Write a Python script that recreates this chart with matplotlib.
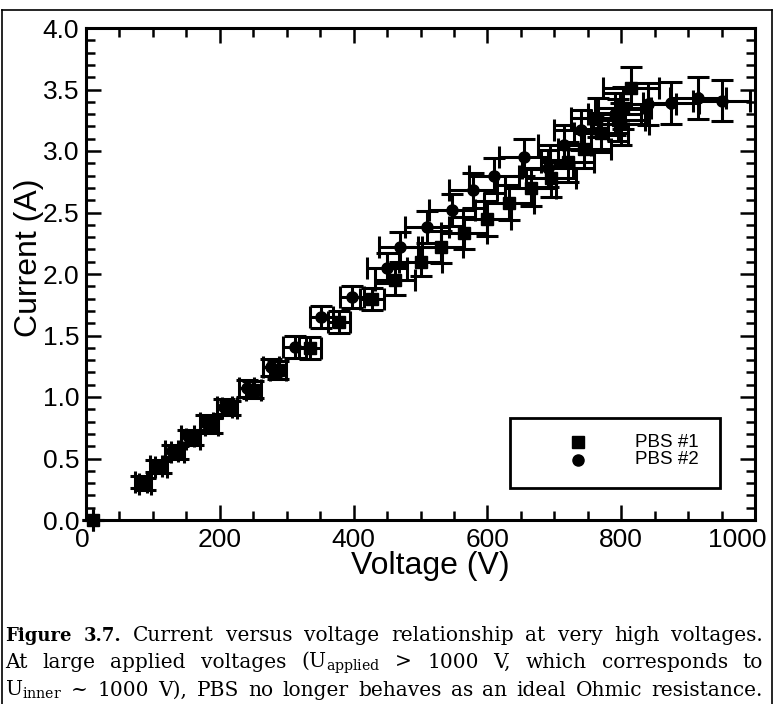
# Current vs voltage for two PBS samples (Figure 3.7 style)
import matplotlib
matplotlib.use("Agg")
import matplotlib.pyplot as plt
import matplotlib.transforms as mtransforms
from matplotlib.lines import Line2D
from matplotlib.patches import Rectangle
from matplotlib.ticker import MultipleLocator, FormatStrFormatter

# PBS #1 (squares)
v1 = [10, 88, 112, 137, 160, 188, 215, 250, 287, 335, 378, 428, 462, 500, 530,
      565, 600, 632, 665, 695, 720, 745, 770, 795, 803, 815]
i1 = [0.00, 0.29, 0.43, 0.55, 0.66, 0.77, 0.91, 1.06, 1.22, 1.40, 1.61, 1.80, 1.95,
      2.10, 2.22, 2.33, 2.45, 2.58, 2.70, 2.78, 2.91, 3.02, 3.15, 3.25, 3.35, 3.51]
dv1 = [0, 9, 9, 10, 10, 10, 11, 11, 12, 17, 17, 18, 30, 32, 33, 35, 36, 37, 38,
       38, 40, 40, 40, 40, 42, 42]
di1 = [0, 0.05, 0.05, 0.05, 0.05, 0.06, 0.06, 0.07, 0.07, 0.09, 0.09, 0.09, 0.12,
       0.12, 0.13, 0.13, 0.14, 0.14, 0.15, 0.15, 0.16, 0.16, 0.16, 0.17, 0.17, 0.17]

# PBS #2 (circles)
v2 = [82, 105, 128, 152, 180, 207, 240, 277, 312, 352, 398, 450, 470, 510, 547,
      578, 610, 655, 690, 715, 740, 765, 790, 800, 840, 875, 915, 950]
i2 = [0.31, 0.44, 0.56, 0.68, 0.79, 0.92, 1.07, 1.24, 1.41, 1.65, 1.81, 2.05, 2.22,
      2.38, 2.52, 2.68, 2.80, 2.95, 2.86, 3.05, 3.17, 3.27, 3.30, 3.22, 3.38, 3.39,
      3.43, 3.41]
dv2 = [9, 9, 10, 10, 10, 11, 11, 12, 17, 17, 18, 30, 32, 33, 35, 36, 37, 38, 38,
       40, 40, 40, 40, 42, 42, 42, 42, 42]
di2 = [0.05, 0.05, 0.05, 0.05, 0.06, 0.06, 0.07, 0.07, 0.09, 0.09, 0.09, 0.12, 0.12,
       0.13, 0.13, 0.14, 0.14, 0.15, 0.15, 0.16, 0.16, 0.16, 0.17, 0.17, 0.17, 0.17,
       0.17, 0.17]

xticks = [0, 200, 400, 600, 800, 1000]
yticks = [0, 0.5, 1.0, 1.5, 2.0, 2.5, 3.0, 3.5, 4.0]

W, H = 774, 704
plt.rcParams["mathtext.fontset"] = "dejavuserif"
fig = plt.figure(figsize=(W / 100, H / 100), dpi=100)
ax = fig.add_axes([86 / W, 1 - 520 / H, 669 / W, 492 / H])

sans = "Liberation Sans"
eb = dict(fmt="none", ecolor="black", elinewidth=2.2, capsize=8, capthick=2.2,
          clip_on=False)
ax.errorbar(v1, i1, xerr=dv1, yerr=di1, **eb)
ax.errorbar(v2, i2, xerr=dv2, yerr=di2, **eb)
ax.plot(v1, i1, "s", color="black", ms=8, clip_on=False, zorder=5)
ax.plot(v2, i2, "o", color="black", ms=8, clip_on=False, zorder=5)

ax.set_xlim(0, 1000)
ax.set_ylim(0, 4)
ax.set_xticks(xticks)
ax.set_yticks(yticks)
ax.xaxis.set_minor_locator(MultipleLocator(50))
ax.yaxis.set_minor_locator(MultipleLocator(0.1))
ax.yaxis.set_major_formatter(FormatStrFormatter("%.1f"))
ax.tick_params(which="both", direction="in", top=True, right=True, width=1.8,
               labelsize=19, pad=5)
ax.tick_params(axis="x", which="major", pad=6)
ax.tick_params(which="major", length=11)
ax.tick_params(which="minor", length=6.5)
for lab in ax.get_xticklabels() + ax.get_yticklabels():
    lab.set_fontfamily(sans)
for s in ax.spines.values():
    s.set_linewidth(2.2)

# end labels of the x axis sit a bit to the left, as in the original
xt = ax.xaxis.get_major_ticks()
for idx, dx in [(0, -4), (len(xticks) - 1, -18)]:
    lab = xt[idx].label1
    lab.set_transform(lab.get_transform() +
                      mtransforms.ScaledTranslation(dx / 100, 0, fig.dpi_scale_trans))

fig.text(430 / W, 1 - 566 / H, "Voltage (V)", ha="center", va="center",
         fontsize=23, family=sans)
fig.text(29 / W, 1 - 258 / H, "Current (A)", ha="center", va="center",
         fontsize=23, family=sans, rotation=90)

# legend box
ax.add_patch(Rectangle((0.634, 0.065), 0.314, 0.142, transform=ax.transAxes,
                       fill=False, lw=2, ec="black", zorder=6))
ax.plot([0.735], [0.158], "s", color="black", ms=8, transform=ax.transAxes, zorder=7)
ax.plot([0.735], [0.122], "o", color="black", ms=8, transform=ax.transAxes, zorder=7)
ax.text(0.82, 0.158, "PBS #1", transform=ax.transAxes, va="center", fontsize=13.5,
        family=sans)
ax.text(0.82, 0.122, "PBS #2", transform=ax.transAxes, va="center", fontsize=13.5,
        family=sans)

# frame around the figure
for xs, ys in [([2, 772], [10, 10]), ([2, 2], [10, 704]), ([772, 772], [10, 704])]:
    fig.add_artist(Line2D([x / W for x in xs], [1 - y / H for y in ys],
                          color="black", lw=1.2))

# caption, justified word by word
serif = "DejaVu Serif"
caption = [
    (641, [("Figure", "bold"), ("3.7.", "bold"), ("Current", None), ("versus", None),
           ("voltage", None), ("relationship", None), ("at", None), ("very", None),
           ("high", None), ("voltages.", None)]),
    (668, [("At", None), ("large", None), ("applied", None), ("voltages", None),
           (r"(U$_{\rm applied}$", None), (">", None), ("1000", None), ("V,", None),
           ("which", None), ("corresponds", None), ("to", None)]),
    (696, [(r"U$_{\rm inner}$", None), ("~", None), ("1000", None), ("V),", None),
           ("PBS", None), ("no", None), ("longer", None), ("behaves", None),
           ("as", None), ("an", None), ("ideal", None), ("Ohmic", None),
           ("resistance.", None)]),
]
renderer = fig.canvas.get_renderer()
x0, x1 = 5, 763
for y, words in caption:
    texts = [fig.text(0, 1 - y / H, w, family=serif, va="baseline",
                      fontsize=13 if wt else 14.5, fontweight=wt or "normal")
             for w, wt in words]
    widths = [t.get_window_extent(renderer).width for t in texts]
    gap = (x1 - x0 - sum(widths)) / (len(texts) - 1)
    x = x0
    for t, w in zip(texts, widths):
        t.set_x(x / W)
        x += w + gap

fig.savefig("out.png", dpi=100)
